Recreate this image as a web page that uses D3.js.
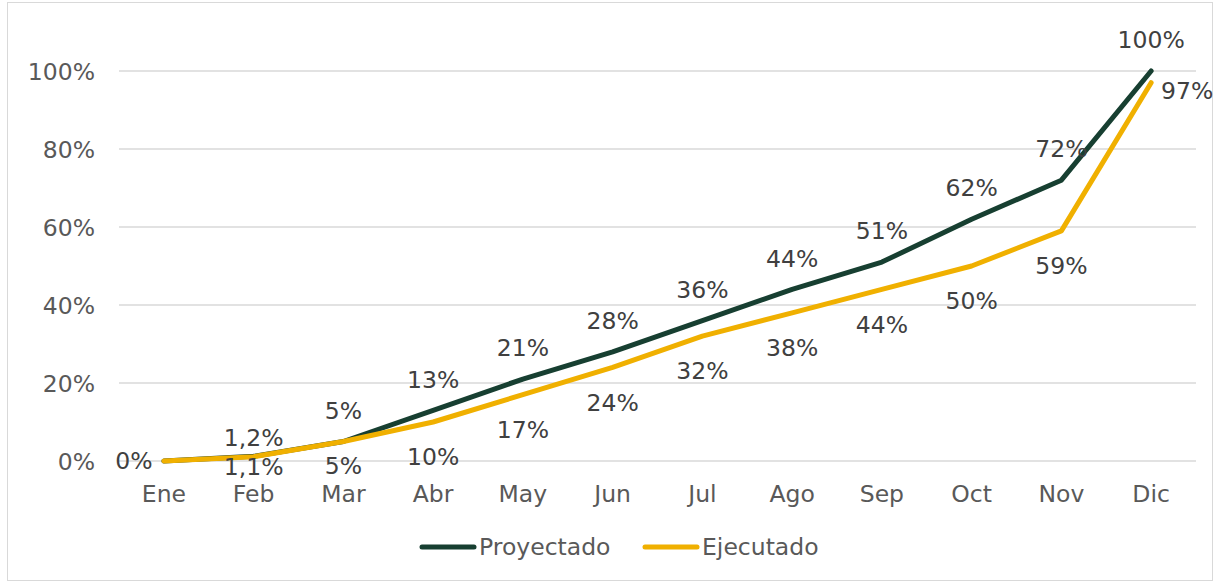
<!DOCTYPE html>
<html>
<head>
<meta charset="utf-8">
<script src="https://cdn.jsdelivr.net/npm/d3@7"></script>
<style>
  body { margin: 0; background: #fff; }
  svg text { font-family: "DejaVu Sans", Verdana, sans-serif; }
</style>
</head>
<body>
<div id="chart"></div>
<script>
// datos del grafico
const months = ["Ene", "Feb", "Mar", "Abr", "May", "Jun", "Jul", "Ago", "Sep", "Oct", "Nov", "Dic"];
const proyectado = [0, 1.2, 5, 13, 21, 28, 36, 44, 51, 62, 72, 100];
const ejecutado  = [0, 1.1, 5, 10, 17, 24, 32, 38, 44, 50, 59, 97];
const yTicks = [0, 20, 40, 60, 80, 100];
const seriesNames = ["Proyectado", "Ejecutado"];
const seriesColors = ["#173f31", "#f0b000"];

const W = 1214, H = 582;
const fontSize = 23.5;

const svg = d3.select("#chart").append("svg")
  .attr("width", W).attr("height", H);

// marco
svg.append("rect")
  .attr("x", 7.5).attr("y", 2.5)
  .attr("width", W - 9).attr("height", H - 4)
  .attr("fill", "none").attr("stroke", "#d9d9d9");

const x = d3.scaleBand().domain(months).range([119, 1196]);
const y = d3.scaleLinear().domain([0, 100]).range([461, 71]);
const cx = (m) => x(m) + x.bandwidth() / 2;

// grid
svg.append("g").selectAll("line")
  .data(yTicks).enter().append("line")
  .attr("x1", 119).attr("x2", 1196)
  .attr("y1", d => y(d)).attr("y2", d => y(d))
  .attr("stroke", "#d9d9d9").attr("stroke-width", 1.5);

// eje y
const yAxis = svg.append("g")
  .attr("transform", "translate(95,0)")
  .call(d3.axisLeft(y).tickValues(yTicks).tickSize(0).tickPadding(0).tickFormat(d => d + "%"));
yAxis.select(".domain").remove();
yAxis.selectAll("text")
  .attr("fill", "#595959").attr("font-size", fontSize)
  .attr("dy", "0.35em");

// eje x
const xAxis = svg.append("g")
  .attr("transform", "translate(0,461)")
  .call(d3.axisBottom(x).tickSize(0).tickPadding(0));
xAxis.select(".domain").remove();
xAxis.selectAll("text")
  .attr("fill", "#595959").attr("font-size", fontSize)
  .attr("y", 33).attr("dy", "0.35em");

const line = d3.line()
  .x((d, i) => cx(months[i]))
  .y(d => y(d));

[proyectado, ejecutado].forEach((vals, k) => {
  svg.append("path")
    .datum(vals)
    .attr("fill", "none")
    .attr("stroke", seriesColors[k])
    .attr("stroke-width", 5)
    .attr("stroke-linejoin", "round")
    .attr("stroke-linecap", "round")
    .attr("d", line);
});

const fmt = (v) => String(v).replace(".", ",") + "%";

// etiquetas Proyectado (arriba)
svg.append("g").selectAll("text")
  .data(proyectado).enter().append("text")
  .attr("x", (d, i) => i === 0 ? cx(months[i]) - 30 : cx(months[i]))
  .attr("y", (d, i) => {
    if (i === 0) return y(d);
    if (i === 1) return y(d) - 19;
    return y(d) - 31;
  })
  .attr("dy", "0.35em")
  .attr("text-anchor", "middle")
  .attr("fill", "#404040").attr("font-size", fontSize)
  .text(fmt);

// etiquetas Ejecutado (abajo); la de Ene queda tapada por la de Proyectado
svg.append("g").selectAll("text")
  .data(ejecutado.map((v, i) => ({ v: v, i: i })).filter(d => d.i > 0))
  .enter().append("text")
  .attr("x", d => d.i === ejecutado.length - 1 ? cx(months[d.i]) + 36 : cx(months[d.i]))
  .attr("y", d => {
    if (d.i === 1) return y(d.v) + 10;
    if (d.i === 2) return y(d.v) + 24;
    if (d.i === ejecutado.length - 1) return y(d.v) + 8;
    return y(d.v) + 35;
  })
  .attr("dy", "0.35em")
  .attr("text-anchor", "middle")
  .attr("fill", "#404040").attr("font-size", fontSize)
  .text(d => fmt(d.v));

// leyenda
const legendX = [420, 643];
seriesNames.forEach((name, k) => {
  const g = svg.append("g").attr("transform", `translate(${legendX[k]},547)`);
  g.append("line")
    .attr("x1", 2).attr("x2", 54)
    .attr("y1", 0).attr("y2", 0)
    .attr("stroke", seriesColors[k]).attr("stroke-width", 5)
    .attr("stroke-linecap", "round");
  g.append("text")
    .attr("x", 59).attr("y", 0).attr("dy", "0.35em")
    .attr("fill", "#595959").attr("font-size", fontSize)
    .text(name);
});
</script>
</body>
</html>
